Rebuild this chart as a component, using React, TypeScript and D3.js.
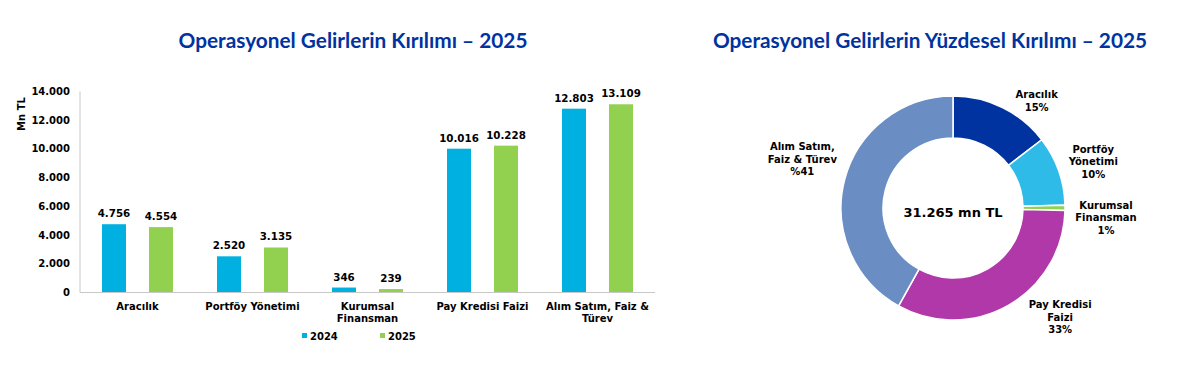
import { useRef, useEffect } from 'react';
import * as d3 from 'd3';

const categories = ['Aracılık', 'Portföy Yönetimi', 'Kurumsal\nFinansman', 'Pay Kredisi Faizi', 'Alım Satım, Faiz &\nTürev'];
const values2024 = [4756, 2520, 346, 10016, 12803];
const values2025 = [4554, 3135, 239, 10228, 13109];
const yTicks = [0, 2000, 4000, 6000, 8000, 10000, 12000, 14000];
const years = ['2024', '2025'];

const pieNames = ['Aracılık', 'Portföy Yönetimi', 'Kurumsal Finansman', 'Pay Kredisi Faizi', 'Alım Satım, Faiz & Türev'];
const pieValues = [4554, 3135, 239, 10228, 13109];
const pieLabels = [
  ['Aracılık', '15%'],
  ['Portföy', 'Yönetimi', '10%'],
  ['Kurumsal', 'Finansman', '1%'],
  ['Pay Kredisi', 'Faizi', '33%'],
  ['Alım Satım,', 'Faiz & Türev', '%41'],
];
const centerLabel = '31.265 mn TL';

const barColors = ['#00B0E0', '#92D050'];
const pieColors = ['#0033A0', '#2EBBE8', '#92D050', '#B038A8', '#6A8EC4'];
// nudges of each donut label relative to its outer centroid
const labelNudge = [[24, 14], [13, -1], [18, 10], [40, -8], [-20, -15]];

const fmt = (v: number) => d3.format(',')(v).replace(/,/g, '.');
const verdana = 'Verdana, "DejaVu Sans", sans-serif';

const App = () => {
  const ref = useRef<SVGSVGElement | null>(null);

  useEffect(() => {
    const svg = d3.select(ref.current);
    svg.selectAll('*').remove();

    // titles
    svg.append('text')
      .attr('x', 353).attr('y', 48)
      .attr('text-anchor', 'middle')
      .style('font-family', 'Lato, "Open Sans", sans-serif')
      .style('font-weight', 700).style('font-size', '20.8px')
      .style('fill', '#0033A0')
      .text('Operasyonel Gelirlerin Kırılımı – 2025');

    svg.append('text')
      .attr('x', 930).attr('y', 48)
      .attr('text-anchor', 'middle')
      .style('font-family', 'Lato, "Open Sans", sans-serif')
      .style('font-weight', 700).style('font-size', '20.8px')
      .style('fill', '#0033A0')
      .text('Operasyonel Gelirlerin Yüzdesel Kırılımı – 2025');

    // bar chart
    const x = d3.scaleBand().domain(categories).range([80, 655]);
    const y = d3.scaleLinear().domain([0, 14000]).range([292.5, 91.5]);
    const barW = 24;
    const offsets = [-35.5, 11.5];

    const g = svg.append('g');

    g.append('line')
      .attr('x1', 80).attr('x2', 80)
      .attr('y1', y(14000)).attr('y2', y(0))
      .attr('stroke', '#C8C8C8').attr('stroke-width', 1);

    g.selectAll('text.ytick')
      .data(yTicks)
      .enter()
      .append('text')
      .attr('class', 'ytick')
      .attr('x', 70)
      .attr('y', d => y(d))
      .attr('dy', '0.35em')
      .attr('text-anchor', 'end')
      .style('font-family', verdana).style('font-weight', 700).style('font-size', '10px')
      .style('fill', '#000')
      .text(d => fmt(d));

    g.append('text')
      .attr('transform', 'translate(25,114) rotate(-90)')
      .attr('text-anchor', 'middle')
      .style('font-family', verdana).style('font-weight', 700).style('font-size', '10px')
      .text('Mn TL');

    [values2024, values2025].forEach((vals, si) => {
      const cx = (i: number) => (x(categories[i]) as number) + x.bandwidth() / 2 + offsets[si];
      g.selectAll(`rect.s${si}`)
        .data(vals)
        .enter()
        .append('rect')
        .attr('class', `s${si}`)
        .attr('x', (d, i) => cx(i))
        .attr('width', barW)
        .attr('y', d => y(d))
        .attr('height', d => y(0) - y(d))
        .style('fill', barColors[si]);

      g.selectAll(`text.v${si}`)
        .data(vals)
        .enter()
        .append('text')
        .attr('class', `v${si}`)
        .attr('x', (d, i) => cx(i) + barW / 2)
        .attr('y', d => y(d) - 7)
        .attr('text-anchor', 'middle')
        .style('font-family', verdana).style('font-weight', 700).style('font-size', '10.3px')
        .style('fill', '#000')
        .text(d => fmt(d));
    });

    g.append('line')
      .attr('x1', 80).attr('x2', 655)
      .attr('y1', y(0)).attr('y2', y(0))
      .attr('stroke', '#C8C8C8').attr('stroke-width', 1.2);

    const catText = g.selectAll('text.cat')
      .data(categories)
      .enter()
      .append('text')
      .attr('class', 'cat')
      .attr('text-anchor', 'middle')
      .style('font-family', verdana).style('font-weight', 700).style('font-size', '10px')
      .style('fill', '#000');
    catText.each(function (d) {
      const t = d3.select(this);
      const cx = (x(d) as number) + x.bandwidth() / 2;
      d.split('\n').forEach((line, li) => {
        t.append('tspan').attr('x', cx).attr('y', 310 + li * 12).text(line);
      });
    });

    // legend
    const legendX = [302, 380];
    years.forEach((yr, i) => {
      g.append('rect')
        .attr('x', legendX[i]).attr('y', 333)
        .attr('width', 5).attr('height', 5)
        .style('fill', barColors[i]);
      g.append('text')
        .attr('x', legendX[i] + 8).attr('y', 339.5)
        .style('font-family', verdana).style('font-weight', 700).style('font-size', '10px')
        .text(yr);
    });

    // donut
    const cx0 = 953, cy0 = 208;
    const outerR = 112, innerR = 70;
    const pie = d3.pie<number>().sort(null).value(d => d);
    const arcs = pie(pieValues);
    const arc = d3.arc<d3.PieArcDatum<number>>().innerRadius(innerR).outerRadius(outerR);
    const labelArc = d3.arc<d3.PieArcDatum<number>>().innerRadius(135).outerRadius(135);

    const pg = svg.append('g').attr('transform', `translate(${cx0},${cy0})`);
    pg.selectAll('path')
      .data(arcs)
      .enter()
      .append('path')
      .attr('d', arc)
      .style('fill', (d, i) => pieColors[i])
      .attr('stroke', '#fff')
      .attr('stroke-width', 1.5)
      .append('title')
      .text((d, i) => pieNames[i]);

    arcs.forEach((a, i) => {
      const [lx, ly] = labelArc.centroid(a);
      const lines = pieLabels[i];
      const px = lx + labelNudge[i][0];
      const py = ly + labelNudge[i][1];
      const t = pg.append('text')
        .attr('text-anchor', 'middle')
        .style('font-family', verdana).style('font-weight', 700).style('font-size', '10px')
        .style('fill', '#000');
      lines.forEach((line, li) => {
        t.append('tspan')
          .attr('x', px)
          .attr('y', py + (li - (lines.length - 1) / 2) * 12.5)
          .attr('dy', '0.35em')
          .text(line);
      });
    });

    pg.append('text')
      .attr('y', 4)
      .attr('dy', '0.35em')
      .attr('text-anchor', 'middle')
      .style('font-family', verdana).style('font-weight', 700).style('font-size', '13px')
      .style('fill', '#000')
      .text(centerLabel);
  }, []);

  return (
    <svg ref={ref} width={1200} height={369}
      style={{ position: 'absolute', left: 0, top: 0, background: '#fff' }} />
  );
};

export default App;
